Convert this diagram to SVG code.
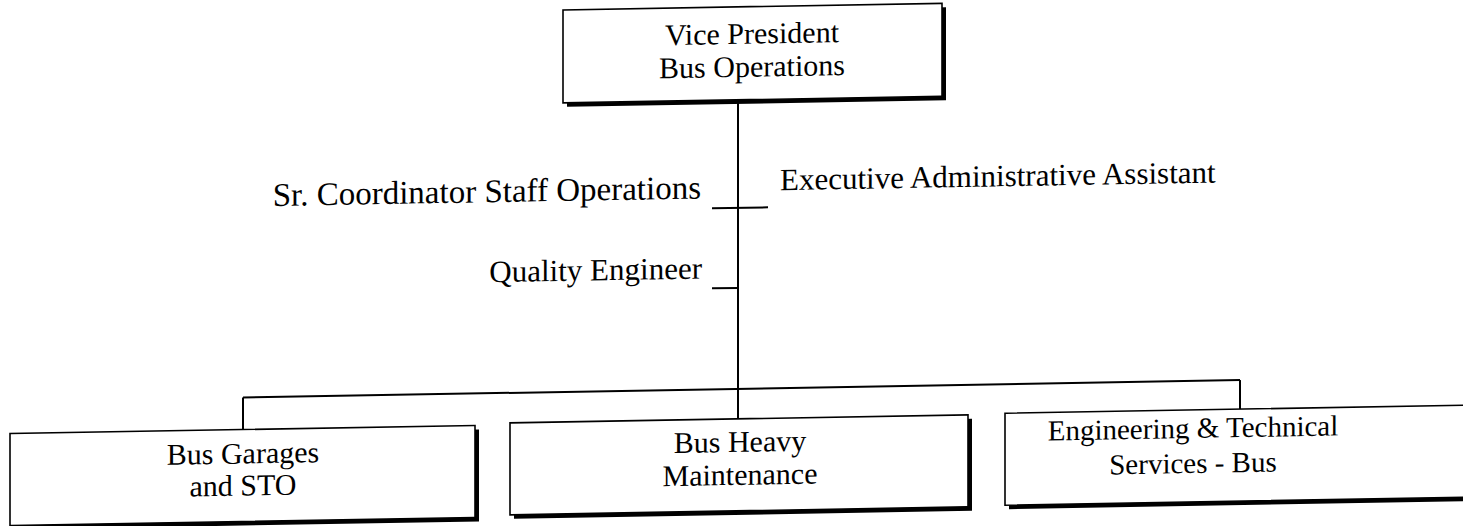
<svg xmlns="http://www.w3.org/2000/svg" width="1463" height="526" viewBox="0 0 1463 526">
<style>
.box{fill:#fff;stroke:#000;stroke-width:1.6}
.sh{fill:#000}
.ln{stroke:#000;stroke-width:2;fill:none}
text{font-family:"Liberation Serif","Times New Roman",serif;font-size:30px;fill:#000}
.lb{font-size:31px}
.sm{font-size:29px}
.c{text-anchor:middle}
.r{text-anchor:end}
</style>
<rect width="1463" height="526" fill="#fff"/>
<g transform="translate(0,12.76) skewY(-1)">
<g id="connectors">
<line class="ln" x1="738" y1="100" x2="738" y2="389"/>
<line class="ln" x1="712" y1="208" x2="768" y2="208"/>
<line class="ln" x1="712" y1="288" x2="738" y2="288"/>
<line class="ln" x1="243" y1="389" x2="1240" y2="389"/>
<line class="ln" x1="243" y1="389" x2="243" y2="421"/>
<line class="ln" x1="738" y1="389" x2="738" y2="419"/>
<line class="ln" x1="1240" y1="389" x2="1240" y2="418"/>
</g>
<g id="vp">
<rect class="sh" x="567" y="11" width="379" height="93"/>
<rect class="box" x="563" y="7" width="379" height="93"/>
<text class="c" x="752" y="44">Vice President</text>
<text class="c" x="752" y="77">Bus Operations</text>
</g>
<g id="staff">
<text class="r" x="701" y="198" style="font-size:33px">Sr. Coordinator Staff Operations</text>
<text class="lb" x="780" y="191">Executive Administrative Assistant</text>
<text class="r lb" x="702" y="278">Quality Engineer</text>
</g>
<g id="garages">
<rect class="sh" x="14" y="425" width="465" height="92"/>
<rect class="box" x="10" y="421" width="465" height="92"/>
<text class="c" x="243" y="455">Bus Garages</text>
<text class="c" x="243" y="487">and STO</text>
</g>
<g id="heavy">
<rect class="sh" x="514" y="423" width="458" height="92"/>
<rect class="box" x="510" y="419" width="458" height="92"/>
<text class="c" x="740" y="452">Bus Heavy</text>
<text class="c" x="740" y="485">Maintenance</text>
</g>
<g id="eng">
<rect class="sh" x="1009" y="422" width="460" height="92"/>
<rect class="box" x="1005" y="418" width="460" height="92"/>
<text class="c sm" x="1193" y="446">Engineering &amp; Technical</text>
<text class="c sm" x="1193" y="481">Services - Bus</text>
</g>
</g>
</svg>
